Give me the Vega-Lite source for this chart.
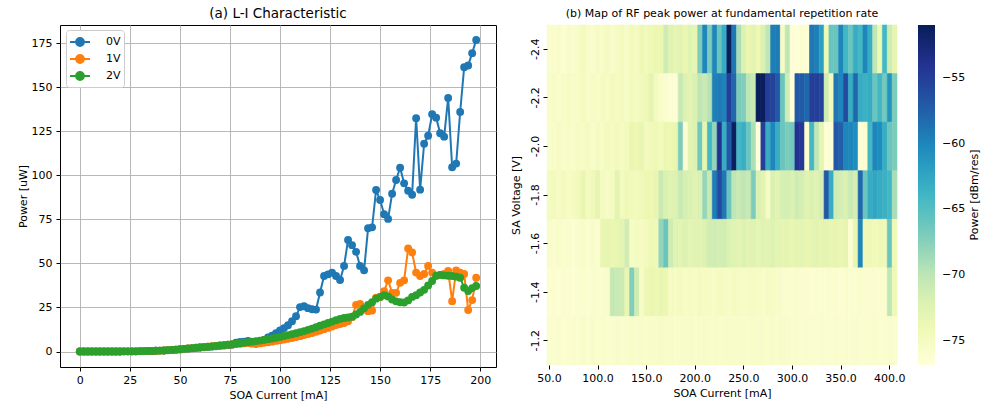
{
"$schema": "https://vega.github.io/schema/vega-lite/v6.json",
"background": "white",
"padding": {"left": 16, "top": 6, "right": 0, "bottom": 0},
"spacing": 13,
"config": {
  "font": "DejaVu Sans",
  "view": {"stroke": null},
  "axis": {"labelFontSize": 11, "titleFontSize": 11, "titleFontWeight": "normal", "labelColor": "black", "titleColor": "black", "tickColor": "black", "tickSize": 4, "labelPadding": 3, "titlePadding": 4, "domain": false, "grid": false},
  "title": {"fontWeight": "normal", "color": "black", "frame": "group", "anchor": "middle"},
  "legend": {"labelColor": "black", "titleColor": "black", "labelFontSize": 11, "titleFontSize": 11, "titleFontWeight": "normal"}
},
"hconcat": [
{
  "width": 436, "height": 342,
  "view": {"stroke": "black", "strokeWidth": 1},
  "title": {"text": "(a) L-I Characteristic", "fontSize": 13.5, "offset": 5},
  "data": {"values": [
{"I":0,"0V":0,"1V":0,"2V":0},{"I":2,"0V":0,"1V":0,"2V":0},{"I":4,"0V":0,"1V":0,"2V":0},{"I":6,"0V":0,"1V":0,"2V":0},{"I":8,"0V":0,"1V":0,"2V":0},
{"I":10,"0V":0,"1V":0,"2V":0},{"I":12,"0V":0,"1V":0,"2V":0},{"I":14,"0V":0,"1V":0,"2V":0},{"I":16,"0V":0,"1V":0,"2V":0},{"I":18,"0V":0,"1V":0,"2V":0},
{"I":20,"0V":0,"1V":0,"2V":0},{"I":22,"0V":0.1,"1V":0.1,"2V":0.1},{"I":24,"0V":0.1,"1V":0.1,"2V":0.1},{"I":26,"0V":0.1,"1V":0.1,"2V":0.1},{"I":28,"0V":0.1,"1V":0.1,"2V":0.1},
{"I":30,"0V":0.2,"1V":0.2,"2V":0.2},{"I":32,"0V":0.2,"1V":0.2,"2V":0.2},{"I":34,"0V":0.3,"1V":0.3,"2V":0.3},{"I":36,"0V":0.3,"1V":0.3,"2V":0.3},{"I":38,"0V":0.4,"1V":0.4,"2V":0.4},
{"I":40,"0V":0.5,"1V":0.5,"2V":0.5},{"I":42,"0V":0.6,"1V":0.6,"2V":0.6},{"I":44,"0V":0.7,"1V":0.8,"2V":0.8},{"I":46,"0V":0.9,"1V":0.9,"2V":0.9},{"I":48,"0V":1.0,"1V":1.1,"2V":1.1},
{"I":50,"0V":1.2,"1V":1.3,"2V":1.3},{"I":52,"0V":1.4,"1V":1.5,"2V":1.5},{"I":54,"0V":1.6,"1V":1.7,"2V":1.7},{"I":56,"0V":1.8,"1V":1.9,"2V":1.9},{"I":58,"0V":2.0,"1V":2.1,"2V":2.1},
{"I":60,"0V":2.3,"1V":2.4,"2V":2.3},{"I":62,"0V":2.4,"1V":2.6,"2V":2.5},{"I":64,"0V":2.6,"1V":2.8,"2V":2.7},{"I":66,"0V":2.8,"1V":3.0,"2V":2.9},{"I":68,"0V":3.0,"1V":3.2,"2V":3.2},
{"I":70,"0V":3.2,"1V":3.4,"2V":3.4},{"I":72,"0V":3.4,"1V":3.6,"2V":3.6},{"I":74,"0V":3.6,"1V":3.8,"2V":3.9},{"I":76,"0V":3.8,"1V":4.0,"2V":4.1},{"I":78,"0V":5.0,"1V":4.2,"2V":4.4},
{"I":80,"0V":5.5,"1V":4.4,"2V":4.7},{"I":82,"0V":5.6,"1V":4.6,"2V":5.0},{"I":84,"0V":6.0,"1V":4.8,"2V":5.3},{"I":86,"0V":4.6,"1V":4.6,"2V":5.6},{"I":88,"0V":4.4,"1V":4.5,"2V":5.9},
{"I":90,"0V":5.0,"1V":4.6,"2V":6.2},{"I":92,"0V":6.5,"1V":4.9,"2V":6.6},{"I":94,"0V":8.0,"1V":5.2,"2V":7.0},{"I":96,"0V":9.0,"1V":5.6,"2V":7.4},{"I":98,"0V":10.4,"1V":6.0,"2V":7.8},
{"I":100,"0V":12.0,"1V":6.4,"2V":8.3},{"I":102,"0V":13.3,"1V":6.8,"2V":8.8},{"I":104,"0V":14.9,"1V":7.2,"2V":9.3},{"I":106,"0V":17.2,"1V":7.7,"2V":9.8},{"I":108,"0V":20.0,"1V":8.2,"2V":10.4},
{"I":110,"0V":25.2,"1V":8.7,"2V":11.0},{"I":112,"0V":25.7,"1V":9.3,"2V":11.6},{"I":114,"0V":24.6,"1V":9.9,"2V":12.3},{"I":116,"0V":24.0,"1V":10.5,"2V":13.0},{"I":118,"0V":23.8,"1V":11.2,"2V":13.8},
{"I":120,"0V":33.5,"1V":11.9,"2V":14.6},{"I":122,"0V":42.9,"1V":12.7,"2V":15.4},{"I":124,"0V":43.8,"1V":13.4,"2V":16.2},{"I":126,"0V":44.8,"1V":14.2,"2V":17.0},{"I":128,"0V":42.9,"1V":15.0,"2V":17.8},
{"I":130,"0V":40.6,"1V":15.6,"2V":18.5},{"I":132,"0V":48.6,"1V":16.2,"2V":19.0},{"I":134,"0V":63.3,"1V":17.2,"2V":19.3},{"I":136,"0V":60.4,"1V":19.5,"2V":19.8},{"I":138,"0V":56.6,"1V":26.5,"2V":21.0},
{"I":140,"0V":48.6,"1V":27.0,"2V":22.5},{"I":142,"0V":46.1,"1V":24.0,"2V":24.5},{"I":144,"0V":70.0,"1V":22.9,"2V":26.5},{"I":146,"0V":70.5,"1V":23.3,"2V":28.0},{"I":148,"0V":91.7,"1V":30.5,"2V":30.0},
{"I":150,"0V":86.0,"1V":31.0,"2V":31.0},{"I":152,"0V":78.0,"1V":34.3,"2V":32.0},{"I":154,"0V":75.3,"1V":40.4,"2V":31.2},{"I":156,"0V":89.6,"1V":33.3,"2V":29.5},{"I":158,"0V":97.4,"1V":33.3,"2V":28.5},
{"I":160,"0V":104.4,"1V":39.0,"2V":28.0},{"I":162,"0V":95.5,"1V":40.4,"2V":27.8},{"I":164,"0V":91.3,"1V":58.5,"2V":29.0},{"I":166,"0V":89.0,"1V":56.2,"2V":31.0},{"I":168,"0V":132.5,"1V":44.8,"2V":32.0},
{"I":170,"0V":91.9,"1V":42.9,"2V":33.5},{"I":172,"0V":118.0,"1V":44.0,"2V":35.0},{"I":174,"0V":122.5,"1V":48.6,"2V":37.5},{"I":176,"0V":134.7,"1V":44.8,"2V":40.0},{"I":178,"0V":132.8,"1V":43.0,"2V":43.0},
{"I":180,"0V":123.9,"1V":43.5,"2V":43.5},{"I":182,"0V":122.0,"1V":44.0,"2V":43.2},{"I":184,"0V":144.0,"1V":45.7,"2V":43.0},{"I":186,"0V":104.6,"1V":28.6,"2V":42.9},{"I":188,"0V":106.7,"1V":46.1,"2V":42.5},
{"I":190,"0V":136.0,"1V":44.8,"2V":41.9},{"I":192,"0V":161.4,"1V":44.0,"2V":36.2},{"I":194,"0V":162.4,"1V":23.6,"2V":34.3},{"I":196,"0V":169.4,"1V":29.2,"2V":36.0},{"I":198,"0V":176.9,"1V":41.9,"2V":37.2}
  ]},
  "transform": [{"fold": ["0V", "1V", "2V"], "as": ["series", "P"]}],
  "encoding": {
    "x": {"field": "I", "type": "quantitative", "scale": {"domain": [-9.9, 207.9], "nice": false, "zero": false},
          "axis": {"values": [0, 25, 50, 75, 100, 125, 150, 175, 200], "title": "SOA Current [mA]", "grid": true, "gridColor": "#b0b0b0", "gridWidth": 0.9}},
    "y": {"field": "P", "type": "quantitative", "scale": {"domain": [-8.8, 185.4], "nice": false, "zero": false},
          "axis": {"values": [0, 25, 50, 75, 100, 125, 150, 175], "title": "Power [uW]", "grid": true, "gridColor": "#b0b0b0", "gridWidth": 0.9, "labelPadding": 4, "titlePadding": 3}},
    "color": {"field": "series", "type": "nominal",
      "scale": {"domain": ["0V", "1V", "2V"], "range": ["#1f77b4", "#ff7f0e", "#2ca02c"]},
      "legend": {"title": null, "orient": "none", "legendX": 6, "legendY": 5,
        "fillColor": "white", "strokeColor": "#cccccc", "cornerRadius": 3, "padding": 3,
        "symbolType": "M-1.25,0L1.25,0M0.5,0A0.5,0.5,0,1,1,-0.5,0A0.5,0.5,0,1,1,0.5,0Z",
        "symbolSize": 256, "symbolOffset": 2, "symbolStrokeWidth": 1.8, "labelFontSize": 11, "labelOffset": 17, "rowPadding": 0,
        "encode": {"symbols": {"update": {"fill": {"scale": "color", "field": "value"}, "stroke": {"scale": "color", "field": "value"}, "opacity": {"value": 1}}}}}}
  },
  "layer": [
    {"mark": {"type": "line", "strokeWidth": 2}},
    {"mark": {"type": "point", "filled": true, "size": 62, "opacity": 1, "shape": "circle"}, "encoding": {"order": {"field": "series", "type": "ordinal"}}}
  ]
},
{
  "width": 350, "height": 340,
  "title": {"text": "(b) Map of RF peak power at fundamental repetition rate", "fontSize": 11, "offset": 6},
  "data": {"values": [
{"I":50,"-2.4":-75.8,"-2.2":-75.6,"-2.0":-75.8,"-1.8":-74.8,"-1.6":-75.6,"-1.4":-76.2,"-1.2":-75.9},
{"I":55,"-2.4":-76.0,"-2.2":-75.2,"-2.0":-75.4,"-1.8":-74.6,"-1.6":-75.9,"-1.4":-76.0,"-1.2":-76.1},
{"I":60,"-2.4":-75.5,"-2.2":-75.8,"-2.0":-75.0,"-1.8":-75.0,"-1.6":-75.4,"-1.4":-76.3,"-1.2":-75.7},
{"I":65,"-2.4":-76.2,"-2.2":-75.4,"-2.0":-75.6,"-1.8":-74.5,"-1.6":-76.0,"-1.4":-76.0,"-1.2":-76.2},
{"I":70,"-2.4":-75.6,"-2.2":-75.0,"-2.0":-75.2,"-1.8":-75.2,"-1.6":-75.7,"-1.4":-76.1,"-1.2":-76.0},
{"I":75,"-2.4":-75.9,"-2.2":-75.6,"-2.0":-75.5,"-1.8":-74.8,"-1.6":-76.2,"-1.4":-76.4,"-1.2":-75.8},
{"I":80,"-2.4":-75.2,"-2.2":-75.3,"-2.0":-75.0,"-1.8":-74.3,"-1.6":-75.8,"-1.4":-76.0,"-1.2":-76.1},
{"I":85,"-2.4":-74.5,"-2.2":-74.9,"-2.0":-75.3,"-1.8":-73.2,"-1.6":-75.5,"-1.4":-75.9,"-1.2":-75.6},
{"I":90,"-2.4":-75.5,"-2.2":-75.5,"-2.0":-74.8,"-1.8":-74.6,"-1.6":-75.9,"-1.4":-76.2,"-1.2":-75.9},
{"I":95,"-2.4":-75.8,"-2.2":-75.1,"-2.0":-75.4,"-1.8":-74.2,"-1.6":-75.6,"-1.4":-75.8,"-1.2":-75.5},
{"I":100,"-2.4":-75.0,"-2.2":-75.4,"-2.0":-74.9,"-1.8":-73.0,"-1.6":-76.0,"-1.4":-76.0,"-1.2":-76.0},
{"I":105,"-2.4":-75.4,"-2.2":-74.8,"-2.0":-75.2,"-1.8":-74.9,"-1.6":-73.2,"-1.4":-76.1,"-1.2":-75.7},
{"I":110,"-2.4":-74.8,"-2.2":-75.2,"-2.0":-74.6,"-1.8":-75.2,"-1.6":-73.0,"-1.4":-75.7,"-1.2":-75.9},
{"I":115,"-2.4":-75.6,"-2.2":-74.6,"-2.0":-75.0,"-1.8":-74.8,"-1.6":-73.4,"-1.4":-70.2,"-1.2":-75.8},
{"I":120,"-2.4":-75.1,"-2.2":-75.0,"-2.0":-74.7,"-1.8":-72.6,"-1.6":-73.1,"-1.4":-70.5,"-1.2":-75.6},
{"I":125,"-2.4":-74.6,"-2.2":-74.7,"-2.0":-75.1,"-1.8":-74.6,"-1.6":-72.8,"-1.4":-70.8,"-1.2":-75.9},
{"I":130,"-2.4":-75.3,"-2.2":-75.2,"-2.0":-74.5,"-1.8":-74.0,"-1.6":-71.2,"-1.4":-73.2,"-1.2":-75.7},
{"I":135,"-2.4":-74.4,"-2.2":-74.5,"-2.0":-73.4,"-1.8":-74.3,"-1.6":-75.2,"-1.4":-67.2,"-1.2":-75.5},
{"I":140,"-2.4":-74.9,"-2.2":-74.9,"-2.0":-73.6,"-1.8":-74.5,"-1.6":-74.8,"-1.4":-71.0,"-1.2":-75.8},
{"I":145,"-2.4":-73.8,"-2.2":-74.4,"-2.0":-73.2,"-1.8":-74.2,"-1.6":-75.0,"-1.4":-75.2,"-1.2":-75.4},
{"I":150,"-2.4":-74.4,"-2.2":-74.0,"-2.0":-74.6,"-1.8":-73.6,"-1.6":-74.6,"-1.4":-73.8,"-1.2":-75.7},
{"I":155,"-2.4":-74.0,"-2.2":-72.8,"-2.0":-74.2,"-1.8":-73.8,"-1.6":-74.0,"-1.4":-73.4,"-1.2":-75.5},
{"I":160,"-2.4":-73.5,"-2.2":-74.6,"-2.0":-74.0,"-1.8":-73.2,"-1.6":-74.2,"-1.4":-73.6,"-1.2":-75.6},
{"I":165,"-2.4":-73.5,"-2.2":-75.5,"-2.0":-74.5,"-1.8":-70.6,"-1.6":-68.0,"-1.4":-73.2,"-1.2":-75.3},
{"I":170,"-2.4":-71.0,"-2.2":-76.0,"-2.0":-73.5,"-1.8":-72.0,"-1.6":-66.0,"-1.4":-73.5,"-1.2":-75.6},
{"I":175,"-2.4":-72.5,"-2.2":-76.4,"-2.0":-73.6,"-1.8":-72.4,"-1.6":-71.0,"-1.4":-75.0,"-1.2":-75.4},
{"I":180,"-2.4":-73.0,"-2.2":-76.5,"-2.0":-73.2,"-1.8":-72.2,"-1.6":-72.4,"-1.4":-75.2,"-1.2":-75.7},
{"I":185,"-2.4":-72.6,"-2.2":-70.4,"-2.0":-67.0,"-1.8":-70.6,"-1.6":-72.6,"-1.4":-74.8,"-1.2":-75.5},
{"I":190,"-2.4":-73.4,"-2.2":-72.2,"-2.0":-76.2,"-1.8":-71.6,"-1.6":-72.2,"-1.4":-75.3,"-1.2":-75.6},
{"I":195,"-2.4":-72.4,"-2.2":-72.6,"-2.0":-72.6,"-1.8":-72.0,"-1.6":-72.8,"-1.4":-75.0,"-1.2":-75.4},
{"I":200,"-2.4":-73.0,"-2.2":-72.0,"-2.0":-72.2,"-1.8":-72.5,"-1.6":-72.4,"-1.4":-75.2,"-1.2":-75.7},
{"I":205,"-2.4":-67.0,"-2.2":-70.0,"-2.0":-66.4,"-1.8":-72.0,"-1.6":-72.6,"-1.4":-74.9,"-1.2":-75.5},
{"I":210,"-2.4":-60.0,"-2.2":-70.6,"-2.0":-73.2,"-1.8":-68.2,"-1.6":-72.2,"-1.4":-75.1,"-1.2":-75.3},
{"I":215,"-2.4":-67.0,"-2.2":-69.6,"-2.0":-64.0,"-1.8":-70.6,"-1.6":-71.2,"-1.4":-75.0,"-1.2":-75.6},
{"I":220,"-2.4":-60.0,"-2.2":-59.6,"-2.0":-68.0,"-1.8":-59.5,"-1.6":-71.0,"-1.4":-75.3,"-1.2":-75.4},
{"I":225,"-2.4":-66.0,"-2.2":-59.2,"-2.0":-54.0,"-1.8":-56.0,"-1.6":-71.4,"-1.4":-74.8,"-1.2":-75.7},
{"I":230,"-2.4":-63.0,"-2.2":-59.8,"-2.0":-63.0,"-1.8":-59.0,"-1.6":-71.2,"-1.4":-75.1,"-1.2":-75.5},
{"I":235,"-2.4":-51.2,"-2.2":-55.0,"-2.0":-57.0,"-1.8":-66.0,"-1.6":-72.0,"-1.4":-75.2,"-1.2":-75.6},
{"I":240,"-2.4":-59.0,"-2.2":-58.0,"-2.0":-51.5,"-1.8":-70.0,"-1.6":-72.4,"-1.4":-74.9,"-1.2":-75.4},
{"I":245,"-2.4":-69.0,"-2.2":-67.0,"-2.0":-64.0,"-1.8":-70.6,"-1.6":-72.8,"-1.4":-75.0,"-1.2":-75.6},
{"I":250,"-2.4":-72.2,"-2.2":-67.2,"-2.0":-63.2,"-1.8":-70.0,"-1.6":-72.2,"-1.4":-75.3,"-1.2":-75.5},
{"I":255,"-2.4":-73.4,"-2.2":-70.0,"-2.0":-66.0,"-1.8":-70.4,"-1.6":-72.6,"-1.4":-75.1,"-1.2":-75.7},
{"I":260,"-2.4":-72.6,"-2.2":-70.4,"-2.0":-69.2,"-1.8":-67.0,"-1.6":-72.4,"-1.4":-75.0,"-1.2":-75.4},
{"I":265,"-2.4":-73.6,"-2.2":-51.0,"-2.0":-76.8,"-1.8":-72.0,"-1.6":-72.9,"-1.4":-75.2,"-1.2":-75.6},
{"I":270,"-2.4":-72.0,"-2.2":-51.3,"-2.0":-55.0,"-1.8":-72.6,"-1.6":-72.5,"-1.4":-75.4,"-1.2":-75.5},
{"I":275,"-2.4":-70.0,"-2.2":-55.0,"-2.0":-63.0,"-1.8":-75.0,"-1.6":-72.7,"-1.4":-75.1,"-1.2":-75.7},
{"I":280,"-2.4":-59.5,"-2.2":-55.4,"-2.0":-60.0,"-1.8":-72.0,"-1.6":-72.3,"-1.4":-75.3,"-1.2":-75.6},
{"I":285,"-2.4":-59.3,"-2.2":-57.0,"-2.0":-63.0,"-1.8":-72.6,"-1.6":-72.8,"-1.4":-75.5,"-1.2":-75.8},
{"I":290,"-2.4":-75.0,"-2.2":-66.0,"-2.0":-66.0,"-1.8":-71.6,"-1.6":-73.0,"-1.4":-75.8,"-1.2":-75.6},
{"I":295,"-2.4":-70.0,"-2.2":-71.0,"-2.0":-67.0,"-1.8":-71.5,"-1.6":-72.8,"-1.4":-76.0,"-1.2":-75.7},
{"I":300,"-2.4":-76.5,"-2.2":-76.8,"-2.0":-66.5,"-1.8":-72.0,"-1.6":-73.2,"-1.4":-76.0,"-1.2":-75.9},
{"I":305,"-2.4":-76.6,"-2.2":-57.0,"-2.0":-54.0,"-1.8":-71.0,"-1.6":-73.0,"-1.4":-75.8,"-1.2":-75.8},
{"I":310,"-2.4":-76.0,"-2.2":-57.2,"-2.0":-54.5,"-1.8":-71.5,"-1.6":-72.8,"-1.4":-76.1,"-1.2":-76.0},
{"I":315,"-2.4":-76.2,"-2.2":-58.0,"-2.0":-76.0,"-1.8":-72.5,"-1.6":-73.2,"-1.4":-76.0,"-1.2":-75.8},
{"I":320,"-2.4":-59.0,"-2.2":-55.0,"-2.0":-64.0,"-1.8":-72.0,"-1.6":-73.0,"-1.4":-76.2,"-1.2":-75.9},
{"I":325,"-2.4":-59.5,"-2.2":-55.0,"-2.0":-70.0,"-1.8":-72.5,"-1.6":-72.6,"-1.4":-75.9,"-1.2":-76.0},
{"I":330,"-2.4":-62.0,"-2.2":-55.4,"-2.0":-73.0,"-1.8":-71.5,"-1.6":-73.0,"-1.4":-76.0,"-1.2":-75.8},
{"I":335,"-2.4":-74.0,"-2.2":-71.0,"-2.0":-76.5,"-1.8":-57.0,"-1.6":-72.8,"-1.4":-76.1,"-1.2":-75.9},
{"I":340,"-2.4":-66.0,"-2.2":-74.5,"-2.0":-76.5,"-1.8":-63.0,"-1.6":-73.2,"-1.4":-75.9,"-1.2":-76.0},
{"I":345,"-2.4":-66.0,"-2.2":-59.0,"-2.0":-57.0,"-1.8":-71.0,"-1.6":-73.0,"-1.4":-76.0,"-1.2":-75.8},
{"I":350,"-2.4":-60.0,"-2.2":-60.0,"-2.0":-57.5,"-1.8":-71.5,"-1.6":-73.4,"-1.4":-76.2,"-1.2":-76.1},
{"I":355,"-2.4":-64.0,"-2.2":-56.0,"-2.0":-60.0,"-1.8":-72.0,"-1.6":-73.0,"-1.4":-76.0,"-1.2":-75.9},
{"I":360,"-2.4":-66.0,"-2.2":-63.0,"-2.0":-60.0,"-1.8":-70.5,"-1.6":-76.2,"-1.4":-76.1,"-1.2":-76.0},
{"I":365,"-2.4":-63.0,"-2.2":-58.0,"-2.0":-60.5,"-1.8":-71.5,"-1.6":-73.2,"-1.4":-76.0,"-1.2":-75.8},
{"I":370,"-2.4":-64.0,"-2.2":-63.0,"-2.0":-76.5,"-1.8":-58.0,"-1.6":-60.0,"-1.4":-75.8,"-1.2":-76.1},
{"I":375,"-2.4":-60.0,"-2.2":-63.5,"-2.0":-76.0,"-1.8":-66.0,"-1.6":-74.2,"-1.4":-76.0,"-1.2":-75.9},
{"I":380,"-2.4":-63.0,"-2.2":-63.0,"-2.0":-64.0,"-1.8":-63.0,"-1.6":-74.0,"-1.4":-75.9,"-1.2":-76.0},
{"I":385,"-2.4":-70.0,"-2.2":-66.0,"-2.0":-60.0,"-1.8":-62.5,"-1.6":-74.4,"-1.4":-76.1,"-1.2":-75.8},
{"I":390,"-2.4":-74.0,"-2.2":-64.0,"-2.0":-60.5,"-1.8":-63.0,"-1.6":-74.0,"-1.4":-76.0,"-1.2":-76.0},
{"I":395,"-2.4":-64.0,"-2.2":-66.5,"-2.0":-63.0,"-1.8":-63.5,"-1.6":-74.2,"-1.4":-76.0,"-1.2":-75.9},
{"I":400,"-2.4":-71.0,"-2.2":-61.0,"-2.0":-66.0,"-1.8":-64.0,"-1.6":-66.0,"-1.4":-70.0,"-1.2":-75.8},
{"I":405,"-2.4":-73.0,"-2.2":-67.0,"-2.0":-67.0,"-1.8":-69.0,"-1.6":-74.0,"-1.4":-74.0,"-1.2":-75.9}
  ]},
  "transform": [{"fold": ["-2\\.4", "-2\\.2", "-2\\.0", "-1\\.8", "-1\\.6", "-1\\.4", "-1\\.2"], "as": ["V", "Pw"]}],
  "mark": {"type": "rect", "strokeWidth": 0.6},
  "encoding": {
    "x": {"field": "I", "type": "ordinal", "scale": {"paddingInner": 0, "paddingOuter": 0},
          "axis": {"values": [50, 100, 150, 200, 250, 300, 350, 400], "labelExpr": "format(datum.value, '.1f')", "labelAngle": 0, "title": "SOA Current [mA]"}},
    "y": {"field": "V", "type": "ordinal", "sort": ["-2.4", "-2.2", "-2.0", "-1.8", "-1.6", "-1.4", "-1.2"], "scale": {"paddingInner": 0, "paddingOuter": 0},
          "axis": {"labelAngle": 270, "title": "SA Voltage [V]", "titlePadding": 8}},
    "color": {"field": "Pw", "type": "quantitative",
      "scale": {"domain": [-76.8, -51], "range": ["#ffffd9", "#edf8b1", "#c7e9b4", "#7fcdbb", "#41b6c4", "#1d91c0", "#225ea8", "#253494", "#081d58"], "interpolate": "rgb"},
      "legend": {"title": "Power [dBm/res]", "orient": "right", "offset": 21, "direction": "vertical", "gradientLength": 340, "gradientThickness": 17, "gradientStrokeWidth": 0,
        "values": [-75, -70, -65, -60, -55], "labelOffset": 7, "titleOrient": "right", "titleAnchor": "middle", "titlePadding": 4,
        "encode": {"title": {"update": {"angle": {"value": 270}, "baseline": {"value": "top"}}}}}},
    "stroke": {"field": "Pw", "type": "quantitative",
      "scale": {"domain": [-76.8, -51], "range": ["#ffffd9", "#edf8b1", "#c7e9b4", "#7fcdbb", "#41b6c4", "#1d91c0", "#225ea8", "#253494", "#081d58"], "interpolate": "rgb"}, "legend": null}
  }
}
]
}
